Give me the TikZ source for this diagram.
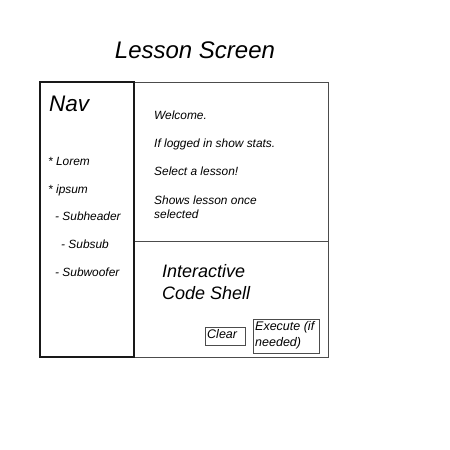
\documentclass[tikz,border=0pt]{standalone}
\usepackage{fontspec}
\setmainfont{Liberation Sans}
\begin{document}
\begin{tikzpicture}[x=1pt,y=-1pt,
  frame/.style={draw=black!70,line width=1pt},
  lbl/.style={anchor=base west,inner sep=0pt,font=\itshape\fontsize{11.9}{14}\selectfont},
  btnlbl/.style={lbl,font=\itshape\fontsize{12.5}{15}\selectfont},
  btn/.style={draw=black!70,line width=0.9pt}]
\useasboundingbox (0,0) rectangle (450,450);
% title
\node[inner sep=0pt,font=\itshape\fontsize{24}{28}\selectfont] (title) at (195,50) {Lesson Screen};
% panels
\draw[frame] (134,82) rectangle (328,241);
\draw[frame] (134,241) rectangle (328,357);
\draw[frame,draw=black!90,line width=1.2pt] (40,82) rectangle (134,357);
% navigation column
\node[lbl,font=\itshape\fontsize{22.5}{26}\selectfont] (navt) at (49,111) {Nav};
\node[lbl] (n1) at (48,165) {* Lorem};
\node[lbl] (n2) at (48,193) {* ipsum};
\node[lbl] (n3) at (55,220) {- Subheader};
\node[lbl] (n4) at (61,248) {- Subsub};
\node[lbl] (n5) at (55,276) {- Subwoofer};
% lesson area
\node[lbl] (w1) at (154,119) {Welcome.};
\node[lbl] (w2) at (154,147) {If logged in show stats.};
\node[lbl] (w3) at (154,175) {Select a lesson!};
\node[lbl] (w4) at (154,204) {Shows lesson once};
\node[lbl] (w5) at (154,218) {selected};
% code shell
\node[lbl,font=\itshape\fontsize{18}{21}\selectfont] (s1) at (162,277) {Interactive};
\node[lbl,font=\itshape\fontsize{18}{21}\selectfont] (s2) at (162,299) {Code Shell};
\draw[btn] (205,327) rectangle (245,345);
\node[btnlbl] (clear) at (207,338) {Clear};
\draw[btn] (253,319) rectangle (319,353);
\node[btnlbl] (ex1) at (255,330) {Execute (if};
\node[btnlbl] (ex2) at (255,346) {needed)};
\end{tikzpicture}
\end{document}
